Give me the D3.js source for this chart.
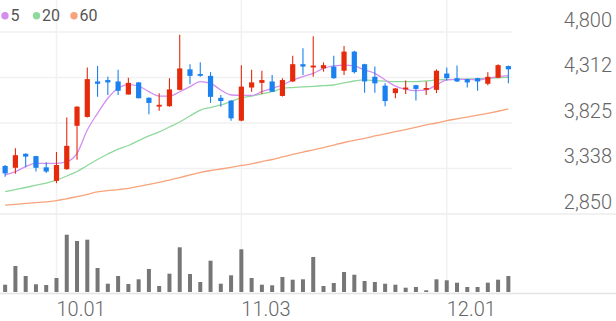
<!DOCTYPE html>
<html>
<head>
<meta charset="utf-8">
<script src="https://cdn.jsdelivr.net/npm/d3@7"></script>
<style>
  html, body { margin: 0; padding: 0; background: #fff; }
  svg { display: block; font-family: Roboto, "Noto Sans", sans-serif; }
</style>
</head>
<body>
<svg id="chart" width="616" height="321"></svg>
<script>
// ---- data ----
const dates = ["09.24","09.25","09.26","09.29","09.30","10.01","10.02","10.10","10.13","10.14",
  "10.15","10.16","10.17","10.20","10.21","10.22","10.23","10.24","10.27","10.28",
  "10.29","10.30","10.31","11.03","11.04","11.05","11.06","11.07","11.10","11.11",
  "11.12","11.13","11.14","11.17","11.18","11.19","11.20","11.21","11.24","11.25",
  "11.26","11.27","11.28","12.01","12.02","12.03","12.04","12.05","12.08","12.09"];
const open  = [3365,3345,3495,3470,3350,3205,3330,3795,3890,4270,4285,4270,4130,4260,4095,4005,4005,4180,4400,4350,
               4330,4095,4065,3850,4205,4255,4270,4115,4270,4455,4420,4410,4430,4385,4590,4455,4320,4225,4145,4185,
               4230,4185,4180,4355,4305,4295,4305,4245,4310,4435];
const high  = [3375,3555,3500,3475,3405,3515,3885,4005,4420,4435,4320,4395,4310,4265,4100,4145,4305,4770,4455,4475,
               4370,4125,4070,4445,4395,4385,4340,4305,4545,4625,4755,4475,4545,4650,4600,4460,4430,4250,4200,4280,
               4235,4270,4400,4420,4440,4300,4310,4370,4455,4440];
const low   = [3250,3280,3350,3305,3290,3180,3325,3430,3885,4105,4125,4125,4130,4090,3920,3955,4000,4175,4240,4320,
               4040,4000,3850,3845,4160,4135,4160,4110,4265,4340,4320,4375,4300,4340,4355,4150,4150,4005,4090,4135,
               4065,4125,4145,4280,4265,4205,4170,4230,4305,4250];
const close = [3285,3480,3465,3345,3305,3375,3580,4000,4295,4245,4260,4170,4255,4090,4040,4020,4185,4410,4330,4335,
               4105,4060,3875,4215,4260,4285,4160,4285,4455,4430,4440,4445,4305,4590,4370,4270,4250,4060,4195,4205,
               4190,4200,4385,4305,4270,4260,4270,4320,4445,4400];
const volume = [73,260,160,77,70,140,573,510,523,240,83,160,80,127,230,60,183,447,180,100,
                313,83,167,427,140,73,67,150,123,127,350,60,90,200,173,110,100,83,73,43,
                50,17,127,117,93,50,50,93,123,160];
const ma5  = [3268,3303,3357,3393,3393,3393,3410,3500,3750,3929,4090,4197,4237,4221,4162,4114,4114,4160,4214,4268,
              4250,4179,4125,4120,4120,4160,4197,4232,4286,4321,4357,4411,4436,4446,4436,4393,4357,4286,4221,4186,
              4171,4179,4232,4286,4293,4293,4286,4304,4321,4332];
const ma20 = [3089,3112,3134,3159,3182,3214,3257,3305,3370,3434,3493,3546,3584,3637,3686,3729,3782,3836,3900,3964,
              3991,4018,4055,4093,4114,4136,4160,4195,4205,4211,4218,4225,4232,4254,4275,4286,4280,4273,4268,4268,
              4268,4275,4286,4289,4292,4296,4300,4304,4309,4315];
const ma60 = [2946,2954,2963,2971,2981,2993,3013,3035,3061,3086,3100,3111,3125,3147,3168,3188,3214,3241,3268,3295,
              3316,3332,3350,3370,3388,3412,3434,3461,3488,3514,3536,3562,3589,3616,3640,3661,3686,3709,3733,3755,
              3779,3804,3825,3850,3870,3889,3909,3929,3951,3975];
const priceTicks = [2850,3338,3825,4312,4800];
const dateTicks = ["10.01","11.03","12.01"];
const legendLabels = ["5","20","60"];

// ---- styles ----
const UP = "#e62b0d", DOWN = "#1b80f0";
const maColors = ["#d48ef0","#8fd99c","#f7a47c"];

const svg = d3.select("#chart");
const W = 616;

const x = d3.scaleBand().domain(dates).range([0, 513.5]).paddingInner(0.5).paddingOuter(0.25);
const cx = d => x(d) + x.bandwidth() / 2;
const y = d3.scaleLinear().domain([2850, 4800]).range([214, 32]);
const yv = d3.scaleLinear().domain([0, 600]).range([292, 232]);

// horizontal grid lines
svg.append("g").selectAll("line").data(priceTicks.slice(1)).join("line")
  .attr("x1", 0).attr("x2", 512).attr("y1", d => y(d)).attr("y2", d => y(d))
  .attr("stroke", "#f1f1f1").attr("stroke-width", 1.5);
// vertical grid lines
svg.append("g").selectAll("line").data(dateTicks).join("line")
  .attr("x1", d => cx(d)).attr("x2", d => cx(d)).attr("y1", 0).attr("y2", 293)
  .attr("stroke", "#f1f1f1").attr("stroke-width", 1.5);
// panel separators
svg.append("line").attr("x1", 0).attr("x2", W).attr("y1", y(2850)).attr("y2", y(2850))
  .attr("stroke", "#ececec").attr("stroke-width", 1.5);
svg.append("line").attr("x1", 0).attr("x2", W).attr("y1", 293.5).attr("y2", 293.5)
  .attr("stroke", "#e3e3e3").attr("stroke-width", 1.5);

// MA lines
[ma60, ma20, ma5].forEach((arr, k) => {
  const color = maColors[2 - k];
  const line = d3.line().x((d, i) => cx(dates[i])).y(d => y(d)).curve(d3.curveMonotoneX);
  svg.append("path").datum(arr).attr("d", line).attr("fill", "none")
    .attr("stroke", color).attr("stroke-width", 1.3);
});

// candles
const candles = svg.append("g").selectAll("g").data(dates).join("g");
candles.append("line")
  .attr("x1", (d) => cx(d)).attr("x2", (d) => cx(d))
  .attr("y1", (d, i) => y(high[i])).attr("y2", (d, i) => y(low[i]))
  .attr("stroke", (d, i) => close[i] >= open[i] ? UP : DOWN).attr("stroke-width", 1.1);
candles.append("rect")
  .attr("x", d => cx(d) - 2.6).attr("width", 5.2)
  .attr("y", (d, i) => y(Math.max(open[i], close[i])))
  .attr("height", (d, i) => Math.max(1.8, Math.abs(y(open[i]) - y(close[i]))))
  .attr("fill", (d, i) => close[i] >= open[i] ? UP : DOWN);

// volume bars
svg.append("g").selectAll("rect").data(dates).join("rect")
  .attr("x", d => cx(d) - 2).attr("width", 4)
  .attr("y", (d, i) => yv(volume[i])).attr("height", (d, i) => yv(0) - yv(volume[i]))
  .attr("fill", "#767676");

// y axis labels (right)
const yAxis = d3.axisLeft(y).tickValues(priceTicks).tickFormat(d3.format(",")).tickSize(0).tickPadding(0);
const gy = svg.append("g").attr("transform", "translate(612,0)").call(yAxis);
gy.select(".domain").remove();
gy.selectAll("text").attr("dy", -6).attr("fill", "#666").attr("font-size", 20)
  .attr("font-weight", 300).attr("font-family", "Roboto, sans-serif");

// x axis labels
const xAxis = d3.axisBottom(x).tickValues(dateTicks).tickSize(0).tickPadding(0);
const gx = svg.append("g").attr("transform", "translate(0,316)").call(xAxis);
gx.select(".domain").remove();
gx.selectAll(".tick").attr("transform", d => `translate(${cx(d)},0)`);
gx.selectAll("text").attr("y", 0).attr("dy", 0).attr("text-anchor", "start").attr("fill", "#666")
  .attr("font-size", 20).attr("font-weight", 300).attr("font-family", "Roboto, sans-serif");

// legend
const legendX = [5, 36.5, 74];
const lg = svg.append("g").selectAll("g").data(legendLabels).join("g")
  .attr("transform", (d, i) => `translate(${legendX[i]},15.7)`);
lg.append("circle").attr("r", 3.7).attr("fill", (d, i) => maColors[i]);
lg.append("text").text(d => d).attr("x", 5.5).attr("y", 5.6)
  .attr("font-size", 16).attr("fill", "#555").attr("font-family", "Roboto, sans-serif");
</script>
</body>
</html>
